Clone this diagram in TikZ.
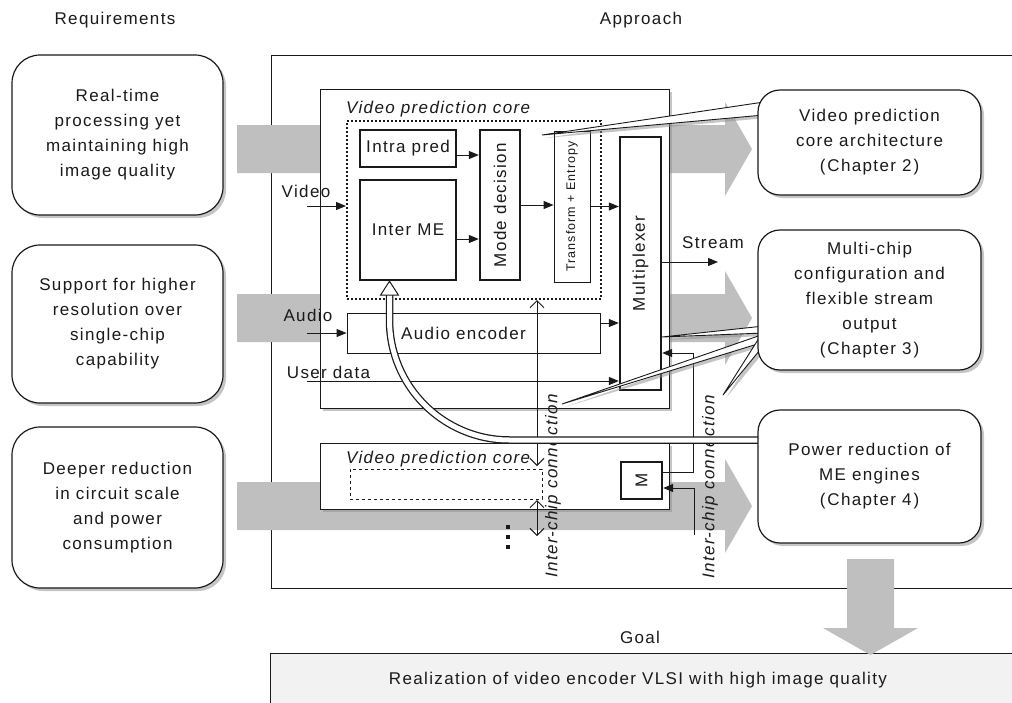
\documentclass[tikz,border=0pt]{standalone}
\usepackage{fontspec}
\usepackage{graphicx}
\setmainfont{Liberation Sans}[LetterSpace=8]
\usetikzlibrary{arrows.meta,shadows,calc}
\definecolor{arrgray}{HTML}{BFBFBF}
\definecolor{goalfill}{HTML}{F2F2F2}
\definecolor{ink}{HTML}{1A1A1A}
\begin{document}
\begin{tikzpicture}[x=1pt,y=-1pt,
  every node/.style={font=\fontsize{17}{25}\selectfont, text=ink},
  shad/.style={drop shadow={shadow xshift=3pt,shadow yshift=-3pt,fill=black!45,opacity=0.5}},
  reqbox/.style={draw=ink,line width=1.2pt,fill=white,rounded corners=28pt,align=center,minimum width=211pt,inner sep=0pt,shad},
  chapbox/.style={draw=ink,line width=1.2pt,fill=white,rounded corners=22pt,align=center,minimum width=223pt,inner sep=0pt,shad},
  chipbox/.style={draw=ink,line width=1pt,fill=white,minimum width=349pt,inner sep=0pt,shad},
  blockbox/.style={draw=ink,line width=2.4pt,fill=white,inner sep=0pt},
  thinbox/.style={draw=ink,line width=0.9pt,fill=white,inner sep=0pt},
  arr/.style={draw=ink,line width=1pt,-{Triangle[length=10pt,width=8pt]}},
  icarr/.style={draw=ink,line width=1pt,{Straight Barb[length=7pt,width=14pt]}-{Straight Barb[length=7pt,width=14pt]}},
  bigarrow/.style={fill=arrgray,draw=none},
  callout/.style={draw=ink,line width=0.9pt,fill=white,shad},
  lbl/.style={inner sep=0pt},
  itl/.style={inner sep=0pt,font=\fontsize{17}{25}\selectfont\itshape},
]
\useasboundingbox (0,0) rectangle (1012,702);

% requirement boxes
\node[reqbox,minimum height=160pt] (req1) at (117.5,135) {Real-time\\processing yet\\maintaining high\\image quality};
\node[reqbox,minimum height=158pt] (req2) at (117.5,324) {Support for higher\\resolution over\\single-chip\\capability};
\node[reqbox,minimum height=161pt] (req3) at (117.5,507.5) {Deeper reduction\\in circuit scale\\and power\\consumption};

% approach frame
\node[draw=ink,line width=1pt,minimum width=760pt,minimum height=533pt,inner sep=0pt] (appr) at (651,321.5) {};

% big gray arrows
\foreach \c in {149,318,506}
  \path[bigarrow] (237,\c-24) -- (725,\c-24) -- (725,\c-47) -- (752,\c) -- (725,\c+47) -- (725,\c+24) -- (237,\c+24) -- cycle;

% chips
\node[chipbox,minimum height=319pt] (chip1) at (494.5,248.5) {};
\node[chipbox,minimum height=66pt] (chip2) at (494.5,476) {};

% chip 1 contents
\node[itl,anchor=west] (vpclbl) at (346,109) {Video prediction core};
\node[draw=ink,line width=2pt,dash pattern=on 2pt off 2pt,minimum width=254pt,minimum height=178pt,inner sep=0pt] (vpc) at (474,210) {};
\node[blockbox,minimum width=96pt,minimum height=37pt] (intra) at (408,148.5) {Intra pred};
\node[blockbox,minimum width=96pt,minimum height=100pt] (inter) at (408,230) {Inter ME};
\node[blockbox,minimum width=40pt,minimum height=150pt] (mode) at (500,205) {\rotatebox{90}{Mode decision}};
\node[thinbox,minimum width=36pt,minimum height=151pt,font=\fontsize{12.5}{15}\selectfont] (trans) at (572,206.5) {\rotatebox{90}{Transform + Entropy}};
\node[blockbox,minimum width=41pt,minimum height=253pt] (mux) at (640.5,263.5) {\rotatebox{90}{Multiplexer}};
\node[thinbox,minimum width=253pt,minimum height=40pt] (aenc) at (473.5,333) {Audio encoder\hspace*{20pt}};

\node[lbl] (vlbl) at (306,191) {Video};
\node[lbl] (albl) at (308,315) {Audio};
\node[lbl] (ulbl) at (328.5,372) {User data};
\node[lbl] (slbl) at (713,243) {Stream};

\coordinate (vin) at (307,206);
\draw[arr] (vin) -- (vin -| vpc.west);
\draw[arr] ($(intra.east)+(0,6.5)$) -- ($(intra.east -| mode.west)+(0,6.5)$);
\draw[arr] ($(inter.east)+(0,9)$) -- ($(inter.east -| mode.west)+(0,9)$);
\draw[arr] (mode.east) -- (mode.east -| trans.west);
\draw[arr] (trans.east) -- (trans.east -| mux.west);
\coordinate (ain) at (307,333);
\draw[arr] (ain) -- (aenc.west);
\draw[arr] ($(aenc.east)+(0,-10)$) -- ($(aenc.east -| mux.west)+(0,-10)$);
\coordinate (uin) at (307,381);
\draw[arr] (uin) -- (uin -| mux.west);
\coordinate (sout) at (718,262);
\draw[arr] (sout -| mux.east) -- (sout);

% chip 2 contents
\node[itl,anchor=west] (vpc2lbl) at (346,459) {Video prediction core};
\node[draw=ink,line width=0.9pt,dashed,minimum width=192pt,minimum height=30pt,inner sep=0pt] (vpc2) at (446,484) {};
\node[blockbox,minimum width=41pt,minimum height=37pt] (mblk) at (641.5,480.5) {\rotatebox{90}{M}};

% inter-chip connections
\coordinate (ic1) at (537,466);
\draw[icarr] (vpc.south -| ic1) -- (ic1);
\coordinate (ic2a) at (537,500);
\coordinate (ic2b) at (537,536);
\draw[icarr] (ic2a) -- (ic2b);
\foreach \yy in {527,537,547}
  \fill[ink] (505.5,\yy-2) rectangle (509.5,\yy+2);
\node[itl,rotate=90] (icl1) at (553,486) {Inter-chip connection};
\node[itl,rotate=90] (icl2) at (710,487) {Inter-chip connection};

% M links
\coordinate (mlb) at (693,472);
\coordinate (mlt) at (693,353);
\draw[arr] (mlb -| mblk.east) -- (mlb) -- (mlt) -- (mlt -| mux.east);
\coordinate (mib) at (694,535);
\coordinate (mit) at (694,488);
\draw[arr] (mib) -- (mit) -- (mit -| mblk.east);

% hollow curved arrow from Power reduction box to Inter ME
\coordinate (dcs) at (766,440);
\coordinate (dcc) at (389.5,440);
\coordinate (dce) at (389.5,293);
\draw[ink,line width=7.5pt,rounded corners=120pt] (dcs) -- (dcc) -- (dce);
\draw[white,line width=5pt,rounded corners=120pt] (dcs) -- (dcc) -- (dce);
\coordinate (hd) at ($(inter.south)+(-18.5,0)$);
\draw[ink,line width=1pt,fill=white,line join=miter] (hd) -- ++(9,14) -- ++(-18,0) -- cycle;

% callouts
\coordinate (c1t) at (542,135);
\path[callout] (c1t) -- (764,102) -- (764,115) -- cycle;
\coordinate (c2a) at (662,337);
\path[callout] (c2a) -- (764,326) -- (764,333) -- cycle;
\coordinate (c2b) at (562,404);
\path[callout] (c2b) -- (764,334) -- (764,342) -- cycle;
\coordinate (c2c) at (723,395);
\path[callout] (c2c) -- (761,335) -- (764,345) -- cycle;

% chapter boxes
\node[chapbox,minimum height=105pt] (chA) at (869.5,142.5) {Video prediction\\core architecture\\(\kern2pt Chapter 2\kern2pt)};
\node[chapbox,minimum height=140pt] (chB) at (869.5,300) {Multi-chip\\configuration and\\flexible stream\\output\\(\kern2pt Chapter 3\kern2pt)};
\node[chapbox,minimum height=133pt] (chC) at (869.5,476.5) {Power reduction of\\ME engines\\(\kern2pt Chapter 4\kern2pt)};

% goal
\node[fill=goalfill,draw=ink,line width=1pt,minimum width=760pt,minimum height=70pt,inner sep=0pt] (goalbox) at (650,688) {};
\node[lbl] (goaltxt) at (638,680) {Realization of video encoder VLSI with high image quality};
\path[bigarrow] (847,559) -- (894,559) -- (894,628) -- (918,628) -- (870.5,655) -- (823,628) -- (847,628) -- cycle;

% headings
\node[lbl] (goallbl) at (640,637) {Goal};
\node[lbl] (reqlbl) at (115,20) {Requirements};
\node[lbl] (apprlbl) at (641,20) {Approach};
\end{tikzpicture}
\end{document}
